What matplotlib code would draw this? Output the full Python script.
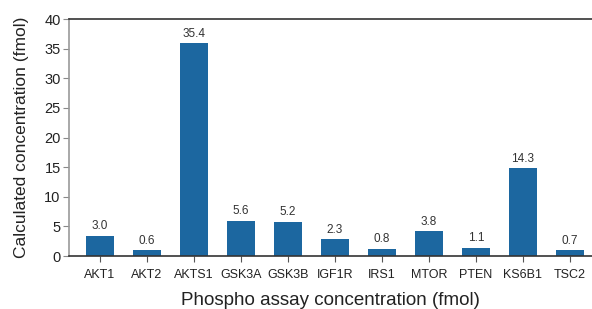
import matplotlib
matplotlib.use('Agg')
import matplotlib.pyplot as plt
import numpy as np

plt.rcParams['font.family'] = ['Liberation Sans', 'DejaVu Sans']

# Datos
proteinas = ['AKT1', 'AKT2', 'AKTS1', 'GSK3A', 'GSK3B', 'IGF1R', 'IRS1', 'MTOR', 'PTEN', 'KS6B1', 'TSC2']
# alturas dibujadas y valores rotulados
alturas = [3.4, 1.0, 35.9, 5.95, 5.8, 2.8, 1.2, 4.2, 1.35, 14.8, 1.0]
etiquetas = [3.0, 0.6, 35.4, 5.6, 5.2, 2.3, 0.8, 3.8, 1.1, 14.3, 0.7]
y_ticks = [0, 5, 10, 15, 20, 25, 30, 35, 40]

fig = plt.figure(figsize=(5.92, 3.09), dpi=100)
ax = fig.add_axes([0.1166, 0.1715, 0.8834, 0.767])

x = np.arange(len(proteinas))
ax.bar(x, alturas, width=0.61, color='#1c67a0', zorder=2)
for xi, h, v in zip(x, alturas, etiquetas):
    ax.text(xi, h + 0.6, f'{v:.1f}', ha='center', va='bottom', fontsize=8.5, color='#333333')

ax.set_xlim(-0.66, 10.47)
ax.set_ylim(0, 40)
ax.set_xticks(x)
ax.set_xticklabels(proteinas, fontsize=9, color='#222222')
ax.set_yticks(y_ticks)
ax.set_yticklabels([str(t) for t in y_ticks], fontsize=10.5, color='#222222')
ax.tick_params(axis='x', length=4, color='#555555', pad=5)
ax.tick_params(axis='y', length=4, color='#888888', pad=2)

ax.spines['right'].set_visible(False)
ax.spines['left'].set_color('#999999')
ax.spines['top'].set_color('#333333')
ax.spines['bottom'].set_color('#333333')
for s in ax.spines.values():
    s.set_linewidth(1.2)

ax.set_xlabel('Phospho assay concentration (fmol)', fontsize=13.5, color='#222222', labelpad=8)
ax.set_ylabel('Calculated concentration (fmol)', fontsize=12.5, color='#222222', labelpad=11)

fig.savefig('out.png', dpi=100)
